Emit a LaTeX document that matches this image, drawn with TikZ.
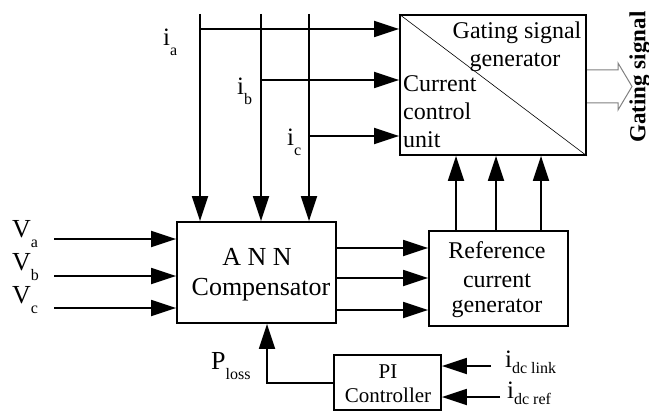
\documentclass[tikz,border=0pt]{standalone}
\usepackage{fontspec}
\setmainfont{Liberation Serif}
\usetikzlibrary{arrows.meta}
\newcommand{\sbx}[1]{\raisebox{-0.4em}{\fontsize{16}{16}\selectfont #1}}
\newcommand{\sbd}[1]{\raisebox{-0.25em}{\fontsize{16}{16}\selectfont #1}}
\begin{document}
\begin{tikzpicture}[x=1pt,y=-1pt,
  box/.style={draw,line width=1.8pt,inner sep=0pt},
  wire/.style={line width=1.8pt},
  arr/.style={wire,-{Triangle[length=25pt,width=16pt]}},
  txt/.style={inner sep=0pt,anchor=base,font=\fontsize{24}{26}\selectfont},
  lbl/.style={inner sep=0pt,anchor=base west,font=\fontsize{25}{26}\selectfont},
]
\useasboundingbox (0,0) rectangle (649,412);

% boxes
\node[box,minimum width=186pt,minimum height=140pt] (gate) at (493,85) {};
\node[box,minimum width=159pt,minimum height=101pt] (ann) at (256.5,272.5) {};
\node[box,minimum width=139pt,minimum height=95pt] (ref) at (498.5,278.5) {};
\node[box,minimum width=107pt,minimum height=55pt] (pi) at (387.5,382.5) {};
\draw[line width=0.6pt] (gate.north west) -- (gate.south east);

% texts in boxes
\node[txt] (g1) at (517,39) {Gating signal};
\node[txt] (g2) at (515,67) {generator};
\node[txt,anchor=base west] (c1) at (403,92) {Current};
\node[txt,anchor=base west] (c2) at (403,120) {control};
\node[txt,anchor=base west] (c3) at (403,148) {unit};
\node[txt,font=\fontsize{26}{28}\selectfont] (a1) at (257,265) {A N N};
\node[txt,font=\fontsize{26}{28}\selectfont] (a2) at (261,295) {Compensator};
\node[txt] (r1) at (497,258) {Reference};
\node[txt] (r2) at (497,287) {current};
\node[txt] (r3) at (497,312) {generator};
\node[txt,font=\fontsize{21}{22}\selectfont] (p1) at (388,378) {PI};
\node[txt,font=\fontsize{21}{22}\selectfont] (p2) at (388,402) {Controller};

% vertical current lines
\coordinate (va) at (200,14);
\coordinate (vb) at (261,14);
\coordinate (vc) at (309,14);
\foreach \v in {va,vb,vc} \draw[arr] (\v) -- (\v |- ann.north);
\coordinate (ja) at (200,29);
\coordinate (jb) at (261,80);
\coordinate (jc) at (309,136);
\foreach \j in {ja,jb,jc} \draw[arr] (\j) -- (\j -| gate.west);

\node[lbl] (ia) at (163,46) {i\sbx{a}};
\node[lbl] (ib) at (237,95) {i\sbx{b}};
\node[lbl] (ic) at (287,146) {i\sbx{c}};

% voltage inputs
\coordinate (xa) at (54,239);
\coordinate (xb) at (54,276);
\coordinate (xc) at (54,308);
\foreach \x in {xa,xb,xc} \draw[arr] (\x) -- (\x -| ann.west);
\node[lbl,font=\fontsize{26}{26}\selectfont] (Va) at (12,237) {V\sbx{a}};
\node[lbl,font=\fontsize{26}{26}\selectfont] (Vb) at (12,270) {V\sbx{b}};
\node[lbl,font=\fontsize{26}{26}\selectfont] (Vc) at (12,303) {V\sbx{c}};

% ANN -> reference
\coordinate (y1) at (0,248);
\coordinate (y2) at (0,278);
\coordinate (y3) at (0,310);
\foreach \y in {y1,y2,y3} \draw[arr] (ann.east |- \y) -- (ref.west |- \y);

% reference -> gating
\coordinate (u1) at (456,0);
\coordinate (u2) at (496,0);
\coordinate (u3) at (541,0);
\foreach \u in {u1,u2,u3} \draw[arr] (ref.north -| \u) -- (gate.south -| \u);

% PI -> ANN
\coordinate (pc) at (267,383);
\draw[arr] (pi.west |- pc) -- (pc) -- (pc |- ann.south);
\node[lbl,font=\fontsize{26}{26}\selectfont] (pl) at (211,369) {P\sbx{loss}};

% dc inputs
\coordinate (d1) at (491,366);
\coordinate (d2) at (500,397);
\draw[arr] (d1) -- (d1 -| pi.east);
\draw[arr] (d2) -- (d2 -| pi.east);
\node[lbl] (il) at (505,367) {i\sbd{dc link}};
\node[lbl] (ir) at (507,398) {i\sbd{dc ref}};

% gating signal output
\coordinate (o1) at (587,70);
\draw[gray,line width=1pt] (o1) -- (618,70) -- (618,63) -- (632,86.5) -- (618,110) -- (618,103) -- (587,103);
\node[inner sep=0pt,rotate=90,font=\bfseries\fontsize{23}{24}\selectfont] (gs) at (640,77) {Gating signal};
\end{tikzpicture}
\end{document}
